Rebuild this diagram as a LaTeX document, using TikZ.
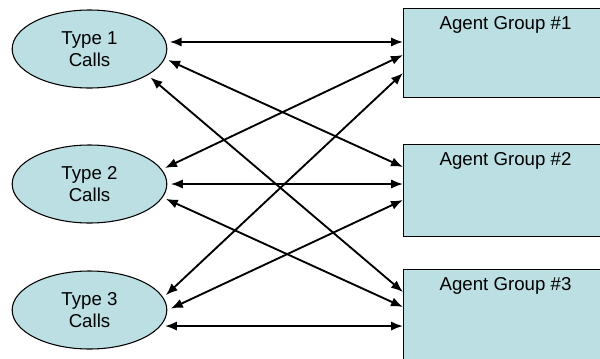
\documentclass[tikz,border=0pt]{standalone}
\usepackage{fontspec}
\setmainfont{Liberation Sans}
\usetikzlibrary{arrows.meta,calc,shapes.geometric}
\begin{document}
\begin{tikzpicture}[x=0.75pt,y=-0.75pt,
  every node/.style={font=\fontsize{14}{17}\selectfont},
  calls/.style={ellipse, draw, line width=0.8pt, fill=callfill, minimum width=116pt, minimum height=58.5pt, inner sep=0pt, outer sep=3pt, align=center},
  group/.style={rectangle, draw, line width=0.8pt, fill=callfill, anchor=north west, minimum width=153pt, inner sep=0pt},
  grouptitle/.style={anchor=north, inner sep=6pt},
  link/.style={{Latex[length=9pt,width=7pt]}-{Latex[length=9pt,width=7pt]}, line width=1.4pt}]
\definecolor{callfill}{HTML}{BBDFE2}
\useasboundingbox (0,0) rectangle (600,358);
\clip (0,0) rectangle (600,358);

\node[calls] (t1) at (89.5,49) {Type 1\\Calls};
\node[calls] (t2) at (89.5,184) {Type 2\\Calls};
\node[calls] (t3) at (89.5,310) {Type 3\\Calls};

\node[group, minimum height=66.75pt, label={[grouptitle]north:Agent Group \#1}] (g1) at (403,8) {};
\node[group, minimum height=69pt, label={[grouptitle]north:Agent Group \#2}] (g2) at (403,144) {};
\node[group, minimum height=90pt, label={[grouptitle]north:Agent Group \#3}] (g3) at (403,269) {};

\draw[link] (t1.5) -- (g1.west |- t1.5);
\draw[link] (t1.-8) -- ($(g2.north west)+(0,23)$);
\draw[link] (t1.-25) -- ($(g3.north west)+(0,23)$);
\draw[link] (t2.12) -- ($(g1.north west)+(0,47)$);
\draw[link] (t2.east) -- (g2.west |- t2.east);
\draw[link] (t2.-11) -- ($(g3.north west)+(0,38)$);
\draw[link] (t3.11) -- ($(g1.north west)+(0,65)$);
\draw[link] (t3.1) -- ($(g2.north west)+(0,56)$);
\draw[link] (t3.-12) -- (g3.west |- t3.-12);
\end{tikzpicture}
\end{document}
